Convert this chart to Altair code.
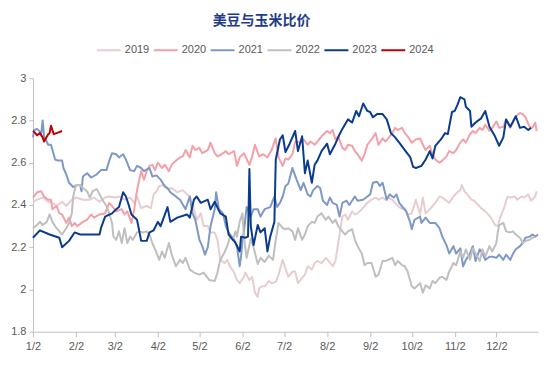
import altair as alt
import pandas as pd
from datetime import date

years = ["2019", "2020", "2021", "2022", "2023", "2024"]
colors = ["#E8CDD0", "#F4A0A8", "#7F99C6", "#BFBFBF", "#0B3B8C", "#C00000"]
widths = [2, 2, 2, 2, 2.6, 2.2]

# day offsets from Jan 2, and the soybean/corn price ratio
d2019 = [0,3,7,11,14,17,21,24,28,31,36,41,44,48,52,55,59,62,66,70,73,75,78,82,85,87,89,91,95,97,100,104,108,111,113,116,118,121,123,126,128,131,133,135,138,140,142,145,147,149,152,153,156,158,160,162,163,165,167,170,172,175,177,180,182,184,187,189,191,194,196,198,201,203,205,208,211,213,216,218,220,223,225,227,230,232,234,237,239,241,244,247,249,252,254,256,259,261,263,266,268,270,273,276,279,281,283,286,288,290,293,295,298,300,303,305,308,309,311,313,316,318,321,323,326,328,330,333,335,337,340,342,344,347,349,352,354,357,359,362,363]
v2019 = [2.415,2.425,2.435,2.415,2.41,2.395,2.415,2.395,2.425,2.435,2.425,2.425,2.435,2.415,2.435,2.44,2.435,2.44,2.425,2.435,2.41,2.44,2.385,2.395,2.385,2.45,2.465,2.49,2.495,2.475,2.48,2.46,2.47,2.45,2.44,2.38,2.33,2.36,2.30,2.30,2.27,2.27,2.235,2.14,2.125,2.14,2.11,2.08,2.045,2.03,2.06,2.08,2.045,2.06,1.985,1.965,2.005,2.015,2.015,2.04,2.03,2.035,2.07,2.14,2.10,2.06,2.085,2.085,2.03,2.055,2.07,2.11,2.095,2.125,2.135,2.125,2.15,2.135,2.11,2.135,2.22,2.345,2.355,2.33,2.37,2.355,2.36,2.38,2.395,2.41,2.425,2.435,2.425,2.435,2.425,2.435,2.425,2.41,2.395,2.38,2.385,2.355,2.36,2.425,2.355,2.435,2.36,2.38,2.395,2.41,2.44,2.435,2.42,2.41,2.44,2.455,2.47,2.495,2.465,2.45,2.425,2.42,2.40,2.385,2.37,2.355,2.34,2.305,2.30,2.345,2.395,2.44,2.435,2.44,2.425,2.44,2.435,2.45,2.42,2.44,2.465]

d2020 = [0,3,6,8,11,13,14,17,19,21,24,26,28,30,32,36,39,42,44,48,52,55,57,60,64,66,68,71,73,75,78,80,82,84,86,88,90,93,95,98,100,103,106,108,110,113,115,117,120,122,126,128,131,133,136,139,141,145,147,149,152,156,158,160,163,166,169,172,175,177,180,182,184,187,189,193,195,198,200,203,205,208,212,214,216,218,220,223,225,227,230,232,234,237,239,241,244,247,249,252,254,256,259,261,263,266,268,270,273,276,279,281,283,286,288,290,293,295,298,300,303,305,308,310,312,315,317,319,322,324,326,329,331,334,336,339,341,344,346,348,351,353,355,358,360,362,363]
v2020 = [2.435,2.46,2.465,2.44,2.425,2.425,2.38,2.395,2.36,2.355,2.315,2.34,2.30,2.315,2.30,2.32,2.33,2.355,2.34,2.355,2.36,2.41,2.395,2.37,2.38,2.355,2.37,2.315,2.38,2.47,2.56,2.52,2.56,2.585,2.59,2.565,2.60,2.575,2.59,2.56,2.59,2.61,2.625,2.63,2.66,2.625,2.68,2.66,2.67,2.645,2.66,2.695,2.645,2.63,2.64,2.655,2.64,2.655,2.585,2.625,2.645,2.59,2.63,2.685,2.63,2.64,2.625,2.66,2.715,2.625,2.585,2.62,2.615,2.64,2.70,2.695,2.71,2.685,2.70,2.685,2.70,2.725,2.75,2.74,2.755,2.71,2.725,2.67,2.66,2.685,2.68,2.655,2.64,2.61,2.64,2.685,2.71,2.74,2.685,2.715,2.70,2.715,2.74,2.765,2.755,2.765,2.74,2.725,2.695,2.71,2.715,2.685,2.66,2.68,2.64,2.615,2.60,2.61,2.63,2.655,2.645,2.66,2.695,2.71,2.695,2.735,2.75,2.74,2.765,2.755,2.78,2.75,2.765,2.795,2.765,2.77,2.805,2.765,2.79,2.82,2.835,2.83,2.815,2.77,2.765,2.79,2.75]

d2021 = [0,1,3,6,7,8,11,13,16,18,21,22,24,26,29,31,32,34,35,36,39,42,46,49,53,55,57,60,62,65,67,70,73,75,78,80,84,86,89,92,95,97,99,103,106,110,113,115,117,120,122,124,126,128,131,132,134,137,139,141,145,147,149,150,151,152,154,157,159,162,164,167,171,174,176,178,180,182,184,187,190,193,195,198,200,202,205,207,209,212,214,216,219,221,223,226,228,232,234,238,241,243,245,248,250,252,255,257,260,262,264,267,269,272,273,275,279,280,283,286,288,290,293,295,298,300,303,305,308,310,312,315,317,319,322,324,326,329,331,334,336,339,341,344,346,348,351,353,355,358,360,362,364]
v2021 = [2.72,2.755,2.76,2.74,2.80,2.725,2.685,2.685,2.615,2.61,2.61,2.575,2.545,2.505,2.485,2.49,2.495,2.495,2.465,2.535,2.55,2.53,2.545,2.565,2.565,2.61,2.645,2.64,2.625,2.64,2.615,2.565,2.56,2.585,2.575,2.56,2.575,2.535,2.54,2.52,2.487,2.48,2.46,2.44,2.425,2.38,2.44,2.36,2.33,2.235,2.205,2.165,2.20,2.30,2.38,2.46,2.38,2.36,2.30,2.27,2.235,2.205,2.11,2.157,2.235,2.27,2.39,2.345,2.38,2.38,2.345,2.38,2.39,2.44,2.39,2.41,2.44,2.49,2.50,2.575,2.52,2.47,2.505,2.45,2.44,2.47,2.49,2.48,2.42,2.40,2.435,2.41,2.40,2.345,2.41,2.42,2.40,2.44,2.42,2.425,2.44,2.45,2.505,2.51,2.49,2.505,2.425,2.45,2.435,2.45,2.41,2.385,2.37,2.315,2.285,2.33,2.345,2.315,2.34,2.315,2.315,2.315,2.29,2.25,2.21,2.17,2.205,2.17,2.195,2.11,2.14,2.17,2.205,2.135,2.19,2.17,2.14,2.155,2.155,2.15,2.165,2.14,2.165,2.14,2.17,2.19,2.205,2.22,2.245,2.25,2.26,2.25,2.26]

d2022 = [0,3,5,7,10,12,14,17,19,21,24,26,28,29,31,34,36,39,41,43,46,48,50,53,55,57,58,60,62,64,66,68,70,72,75,77,79,82,84,86,89,91,93,95,98,100,103,106,108,110,113,116,120,123,127,131,133,135,138,140,142,144,146,147,149,151,152,154,157,159,162,164,167,170,173,175,177,180,182,184,187,189,191,194,196,198,201,203,205,208,211,213,216,218,220,223,225,227,230,232,234,237,239,241,244,247,249,252,254,256,259,261,263,266,268,270,273,275,279,281,283,286,288,290,293,295,298,300,303,305,308,310,312,315,317,319,322,324,326,329,331,334,335,336,339,341,344,346,348,351,353,355,358,360,362]
v2022 = [2.29,2.305,2.32,2.305,2.32,2.355,2.32,2.29,2.275,2.26,2.29,2.315,2.36,2.44,2.495,2.495,2.48,2.465,2.435,2.465,2.475,2.45,2.425,2.395,2.36,2.315,2.25,2.235,2.275,2.22,2.29,2.22,2.25,2.235,2.27,2.275,2.27,2.275,2.26,2.22,2.175,2.14,2.18,2.15,2.22,2.165,2.11,2.14,2.125,2.15,2.095,2.08,2.07,2.08,2.045,2.04,2.08,2.14,2.175,2.205,2.25,2.235,2.275,2.25,2.32,2.36,2.25,2.15,2.24,2.20,2.12,2.15,2.13,2.16,2.14,2.235,2.315,2.29,2.285,2.29,2.275,2.235,2.29,2.235,2.26,2.30,2.32,2.315,2.345,2.36,2.33,2.345,2.315,2.33,2.30,2.275,2.26,2.275,2.285,2.235,2.205,2.17,2.115,2.125,2.125,2.06,2.07,2.135,2.135,2.14,2.15,2.115,2.135,2.115,2.11,2.085,2.015,2.005,2.03,1.985,2.02,2.005,2.04,2.03,2.055,2.06,2.045,2.085,2.125,2.115,2.18,2.15,2.19,2.14,2.195,2.17,2.135,2.19,2.155,2.205,2.18,2.22,2.27,2.305,2.315,2.275,2.27,2.275,2.26,2.245,2.22,2.23,2.235,2.245,2.25]

d2023 = [0,5,12,19,21,26,30,34,41,48,49,52,57,60,62,65,67,69,71,75,78,82,84,87,90,92,97,99,104,111,113,116,118,121,126,128,131,135,139,141,146,149,150,153,155,156,157,159,162,164,167,169,171,174,175,178,180,182,185,189,191,194,196,198,201,203,205,208,212,214,218,221,223,227,230,233,235,238,241,243,245,248,252,255,258,261,264,268,272,274,276,280,283,286,288,290,294,297,299,302,304,306,308,311,312,315,316,319,323,326,329,333,336,339,341,344,346,348,351,354,357,359]
v2023 = [2.245,2.28,2.26,2.245,2.20,2.23,2.27,2.26,2.26,2.26,2.29,2.345,2.36,2.38,2.39,2.46,2.44,2.40,2.355,2.33,2.23,2.23,2.27,2.28,2.32,2.30,2.39,2.32,2.34,2.355,2.34,2.425,2.44,2.41,2.425,2.38,2.415,2.36,2.345,2.26,2.22,2.18,2.25,2.245,2.25,2.57,2.30,2.21,2.305,2.27,2.29,2.18,2.25,2.32,2.615,2.71,2.73,2.65,2.69,2.75,2.655,2.725,2.55,2.61,2.505,2.59,2.61,2.655,2.69,2.64,2.69,2.735,2.76,2.805,2.79,2.845,2.82,2.88,2.845,2.84,2.815,2.83,2.83,2.805,2.74,2.72,2.695,2.66,2.625,2.58,2.575,2.585,2.615,2.655,2.62,2.68,2.71,2.74,2.735,2.84,2.845,2.875,2.91,2.90,2.865,2.845,2.77,2.79,2.81,2.845,2.77,2.725,2.68,2.72,2.805,2.77,2.795,2.82,2.765,2.77,2.755,2.765]

d2024 = [0,1,3,5,7,8,11,12,13,15,17,19,21]
v2024 = [2.75,2.745,2.73,2.74,2.72,2.70,2.735,2.74,2.775,2.735,2.74,2.745,2.75]

series = {"2019": (d2019, v2019), "2020": (d2020, v2020), "2021": (d2021, v2021),
          "2022": (d2022, v2022), "2023": (d2023, v2023), "2024": (d2024, v2024)}
rows = []
for yr, (ds, vs) in series.items():
    assert len(ds) == len(vs), yr
    for d, v in zip(ds, vs):
        rows.append({"year": yr, "day": d, "ratio": v})
df = pd.DataFrame(rows)

tick_days = [(date(2001, m, 2) - date(2001, 1, 2)).days for m in range(1, 13)]
y_ticks = [1.8, 2.0, 2.2, 2.4, 2.6, 2.8, 3.0]

chart = alt.Chart(df).mark_line(strokeJoin="round").encode(
    x=alt.X("day:Q",
            scale=alt.Scale(domain=[0, 364], nice=False, zero=False),
            axis=alt.Axis(values=tick_days, title=None, grid=False,
                          labelExpr="timeFormat(datetime(2001, 0, 2 + datum.value), '%-m/%-d')",
                          tickSize=5, labelPadding=4, labelFlush=False)),
    y=alt.Y("ratio:Q",
            scale=alt.Scale(domain=[1.8, 3.0], nice=False, zero=False),
            axis=alt.Axis(values=y_ticks, format=".1~f", title=None, grid=False,
                          tickSize=4, labelPadding=3)),
    color=alt.Color("year:N",
                    scale=alt.Scale(domain=years, range=colors),
                    legend=alt.Legend(title=None, orient="none", direction="horizontal",
                                      legendX=63, legendY=-41, symbolType="stroke",
                                      symbolSize=576, symbolStrokeWidth=2.5,
                                      labelFontSize=11, labelColor="#595959",
                                      labelFont="Liberation Sans", labelOffset=3,
                                      columnPadding=0, padding=0)),
    strokeWidth=alt.StrokeWidth("year:N", scale=alt.Scale(domain=years, range=widths), legend=None),
).properties(
    width=506, height=254,
    title=alt.Title("美豆与玉米比价", font="Noto Sans CJK SC", fontSize=14,
                    fontWeight="bold", color="#1F3C88", anchor="middle", dx=-24, offset=9),
    autosize=alt.AutoSizeParams(type="none"),
    padding={"left": 25, "top": 70, "right": 8, "bottom": 25},
).configure_view(stroke=None).configure_axis(
    domainColor="#BFBFBF", tickColor="#BFBFBF", labelColor="#595959",
    labelFont="Liberation Sans", labelFontSize=11,
)

chart.save("out.html", embed_options={"renderer": "svg", "actions": False})
